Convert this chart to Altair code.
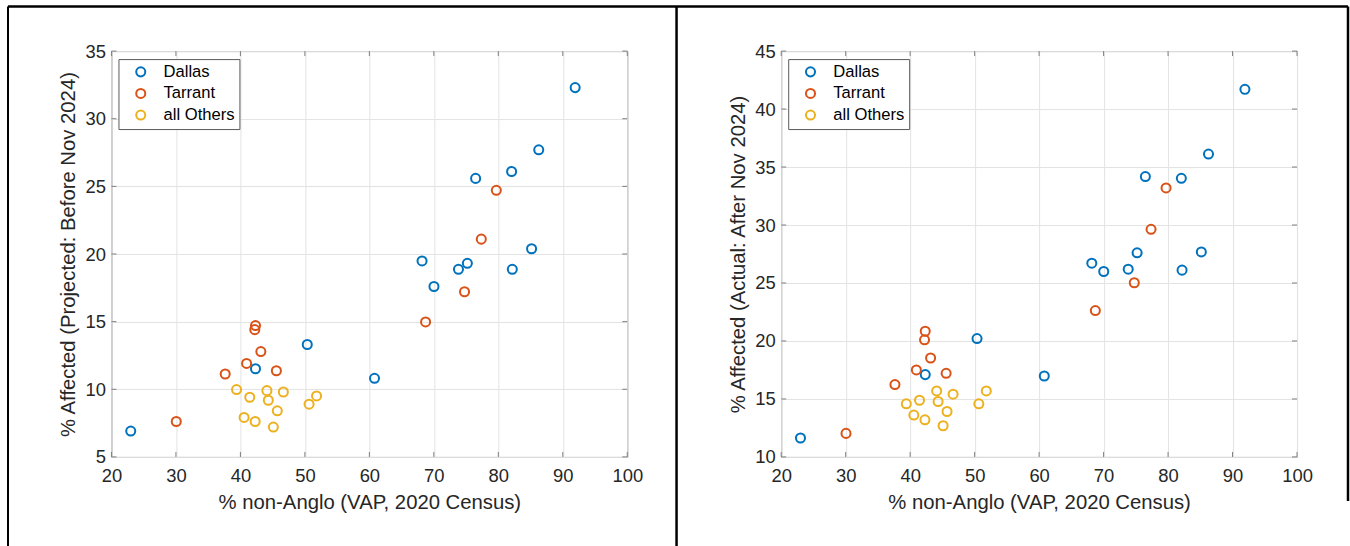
import altair as alt
import pandas as pd

# ---------------- data ----------------
counties = ["Dallas", "Tarrant", "all Others"]
colors = ["#0072BD", "#D95319", "#EDB120"]

x_ticks = [20, 30, 40, 50, 60, 70, 80, 90, 100]
y_ticks_before = [5, 10, 15, 20, 25, 30, 35]
y_ticks_after = [10, 15, 20, 25, 30, 35, 40, 45]

dallas_x = [22.99, 42.34, 50.37, 60.80, 68.17, 70.02, 73.82, 75.20, 76.48, 82.06, 82.17, 85.16, 86.27, 91.92]
dallas_before = [6.91, 11.52, 13.31, 10.81, 19.49, 17.60, 18.87, 19.31, 25.59, 26.10, 18.87, 20.39, 27.70, 32.30]
dallas_after = [11.63, 17.10, 20.21, 16.98, 26.71, 25.99, 26.19, 27.60, 34.18, 34.03, 26.11, 27.68, 36.12, 41.70]

tarrant_x = [30.05, 37.64, 40.96, 42.34, 42.23, 43.17, 45.58, 68.72, 74.76, 77.36, 79.69]
tarrant_before = [7.62, 11.13, 11.91, 14.71, 14.41, 12.79, 11.37, 14.98, 17.21, 21.10, 24.71]
tarrant_after = [12.03, 16.24, 17.50, 20.84, 20.10, 18.53, 17.21, 22.62, 25.02, 29.63, 33.20]

others_x = [39.40, 41.45, 40.57, 42.29, 44.11, 44.33, 46.66, 45.72, 45.11, 50.65, 51.81]
others_before = [9.98, 9.41, 7.92, 7.62, 9.90, 9.19, 9.80, 8.41, 7.21, 8.90, 9.51]
others_after = [14.58, 14.89, 13.61, 13.20, 15.69, 14.78, 15.41, 13.92, 12.69, 14.58, 15.69]

x_title = "% non-Anglo (VAP, 2020 Census)"
y_title_before = "% Affected (Projected: Before Nov 2024)"
y_title_after = "% Affected (Actual: After Nov 2024)"

# ---------------- styling ----------------
W, H = 516, 406
FONT = "Liberation Sans"
TXT = "#262626"
FRAME = "#808080"
GRID = "#e3e3e3"
TICK_LEN = 5
MSIZE = 82
MSTROKE = 2


def build_df(ys):
    rows = []
    for name, xs, yv in zip(counties, [dallas_x, tarrant_x, others_x], ys):
        for a, b in zip(xs, yv):
            rows.append({"x": a, "y": b, "county": name})
    return pd.DataFrame(rows)


def panel(df, yticks, ytitle, borders=None):
    X = alt.X(
        "x:Q",
        scale=alt.Scale(domain=[x_ticks[0], x_ticks[-1]], nice=False, zero=False),
        axis=alt.Axis(
            values=x_ticks, title=x_title, domain=False, ticks=False, grid=True,
            gridColor=GRID, labelFont=FONT, labelFontSize=18.4, labelColor=TXT,
            labelPadding=10, labelFlush=False, labelOverlap=False,
            titleFont=FONT, titleFontSize=20.3, titleFontWeight="normal",
            titleColor=TXT, titleX=W / 2, titleY=51.3, titleAlign="center",
            titleBaseline="alphabetic",
        ),
    )
    Y = alt.Y(
        "y:Q",
        scale=alt.Scale(domain=[yticks[0], yticks[-1]], nice=False, zero=False),
        axis=alt.Axis(
            values=yticks, title=ytitle, domain=False, ticks=False, grid=True,
            gridColor=GRID, labelFont=FONT, labelFontSize=18.4, labelColor=TXT,
            labelPadding=6, labelFlush=False, labelOverlap=False,
            titleFont=FONT, titleFontSize=20.3, titleFontWeight="normal",
            titleColor=TXT, titleX=-36.5, titleY=H / 2, titleAngle=270,
            titleAlign="center", titleBaseline="alphabetic",
        ),
    )
    pts = alt.Chart(df).mark_point(
        shape="circle", filled=False, size=MSIZE, strokeWidth=MSTROKE, opacity=1
    ).encode(
        x=X,
        y=Y,
        color=alt.Color(
            "county:N",
            scale=alt.Scale(domain=counties, range=colors),
            sort=counties,
            legend=alt.Legend(
                title=None, orient="none", legendX=7, legendY=8,
                fillColor="white", strokeColor="#5a5a5a", padding=4.5,
                labelFont=FONT, labelFontSize=16.6, labelColor="#000000",
                symbolType="circle", symbolSize=MSIZE, symbolStrokeWidth=MSTROKE,
                symbolOffset=9.5, labelOffset=14.5, rowPadding=3.6,
            ),
        ),
    )
    xt = pd.DataFrame({"x": x_ticks})
    yt = pd.DataFrame({"y": yticks})
    tick_top = alt.Chart(xt).mark_rule(color=FRAME, strokeWidth=1).encode(
        x=X, y=alt.value(0), y2=alt.value(TICK_LEN))
    tick_bot = alt.Chart(xt).mark_rule(color=FRAME, strokeWidth=1).encode(
        x=X, y=alt.value(H), y2=alt.value(H - TICK_LEN))
    tick_l = alt.Chart(yt).mark_rule(color=FRAME, strokeWidth=1).encode(
        y=Y, x=alt.value(0), x2=alt.value(TICK_LEN))
    tick_r = alt.Chart(yt).mark_rule(color=FRAME, strokeWidth=1).encode(
        y=Y, x=alt.value(W), x2=alt.value(W - TICK_LEN))
    layers = [pts, tick_top, tick_bot, tick_l, tick_r]
    if borders:
        layers += borders
    return alt.layer(*layers).properties(width=W, height=H)


# page frame lines (decoration, drawn relative to the left plot area at page x=110, y=50)
one = alt.Data(values=[{"k": 1}])
frame_top = alt.Chart(one).mark_rule(color="black", strokeWidth=2.5).encode(
    x=alt.value(-103.5), x2=alt.value(1237), y=alt.value(-44.7))
frame_left = alt.Chart(one).mark_rule(color="black", strokeWidth=2).encode(
    x=alt.value(-103.5), y=alt.value(-44.7), y2=alt.value(495))
frame_mid = alt.Chart(one).mark_rule(color="black", strokeWidth=2.5).encode(
    x=alt.value(565.3), y=alt.value(-44.7), y2=alt.value(495))
frame_right = alt.Chart(one).mark_rule(color="black", strokeWidth=2.5).encode(
    x=alt.value(1237), y=alt.value(-44.7), y2=alt.value(450))

left = panel(build_df([dallas_before, tarrant_before, others_before]), y_ticks_before,
             y_title_before, [frame_top, frame_left, frame_mid, frame_right])
right = panel(build_df([dallas_after, tarrant_after, others_after]), y_ticks_after,
              y_title_after)

chart = (
    alt.hconcat(left, right, spacing=154, bounds="flush")
    .resolve_scale(color="independent")
    .resolve_legend(color="independent")
    .properties(padding={"left": 5.5, "top": 4, "right": 0, "bottom": 0}, background="white")
    .configure_view(stroke=FRAME, strokeWidth=1)
)

chart.save("out.html", embed_options={"renderer": "svg", "actions": False})
